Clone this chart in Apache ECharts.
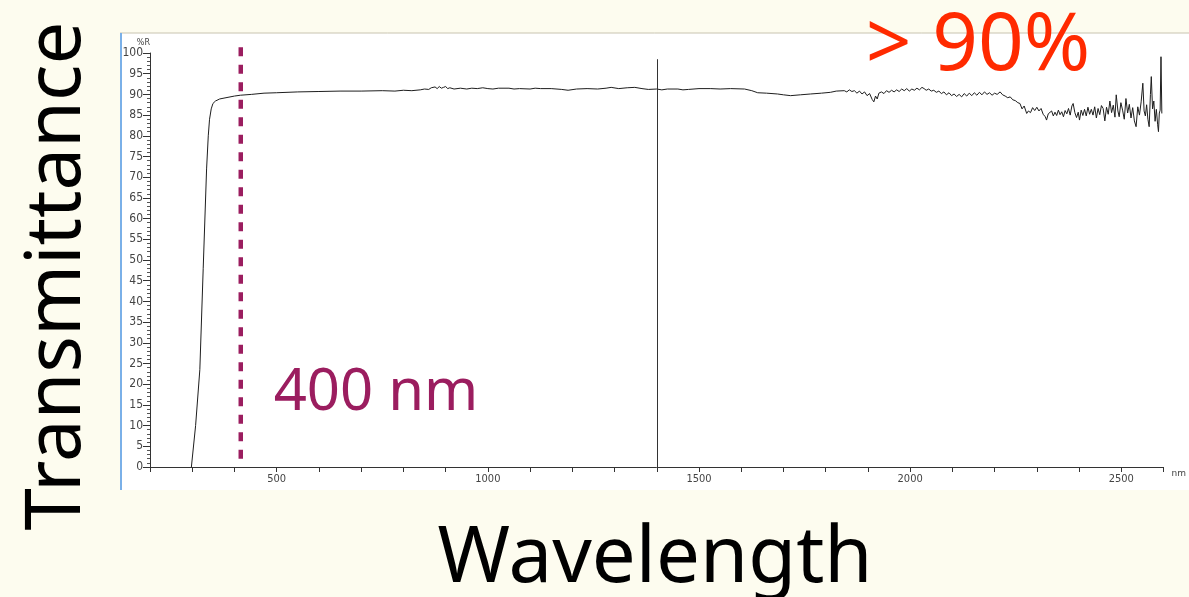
<!DOCTYPE html>
<html>
<head>
<meta charset="utf-8">
<script src="https://cdn.jsdelivr.net/npm/echarts@6/dist/echarts.min.js"></script>
<style>
  html, body { margin: 0; padding: 0; background: #fdfcef; }
  #chart { width: 1189px; height: 597px; }
</style>
</head>
<body>
<div id="chart"></div>
<script>
  // spectrum, [nm, %T] pairs, split by region
  var riseEdge = [
    [298, 0], [308, 10], [318, 23.5], [326, 48], [334, 72], [338, 80], [341, 84], [345, 86.5],
    [349, 87.8], [355, 88.4], [365, 88.9], [380, 89.2], [400, 89.6], [414, 89.8], [440, 90.0],
    [470, 90.3], [500, 90.4], [550, 90.6], [600, 90.7], [650, 90.8], [700, 90.8], [750, 90.9],
    [780, 90.8], [800, 91.0], [820, 90.9], [840, 91.1]
  ];
  var plateau = [
    [850, 91.3], [860, 91.2], [866, 91.6], [870, 91.3], [875, 91.8], [880, 91.4], [885, 91.9],
    [890, 91.5], [895, 91.7], [900, 91.9], [905, 91.4], [910, 91.6], [920, 91.3], [935, 91.5],
    [950, 91.3], [962, 91.5], [975, 91.4], [988, 91.6], [1000, 91.4], [1012, 91.3], [1025, 91.5],
    [1050, 91.5], [1062, 91.3], [1075, 91.4], [1100, 91.3], [1112, 91.5], [1125, 91.4], [1150, 91.4],
    [1175, 91.2], [1190, 91.0], [1210, 91.3], [1235, 91.4], [1260, 91.3], [1280, 91.5], [1292, 91.7],
    [1310, 91.4], [1330, 91.6], [1348, 91.7], [1365, 91.4], [1380, 91.2], [1400, 91.3], [1412, 91.1],
    [1425, 91.3], [1450, 91.3], [1462, 91.1], [1475, 91.2], [1500, 91.4], [1528, 91.4], [1550, 91.3],
    [1575, 91.4], [1608, 91.3]
  ];
  var waterDip = [
    [1625, 90.9], [1639, 90.4], [1660, 90.3], [1686, 90.1], [1700, 89.9], [1717, 89.7], [1740, 89.9],
    [1764, 90.1], [1790, 90.3], [1811, 90.5], [1825, 90.8], [1844, 90.9], [1850, 90.6], [1856, 91.1],
    [1862, 90.7], [1868, 90.9], [1874, 90.3], [1880, 90.8], [1886, 90.1], [1892, 90.6], [1898, 89.7],
    [1904, 90.2], [1910, 88.8], [1914, 88.2], [1918, 89.6], [1922, 88.9], [1926, 90.3], [1932, 90.6],
    [1938, 90.2], [1944, 90.9], [1950, 90.5], [1956, 91.0], [1962, 90.6], [1968, 91.1], [1974, 90.7],
    [1980, 91.3], [1986, 90.9], [1992, 91.4], [1998, 90.8], [2004, 91.3], [2010, 91.0], [2016, 91.5],
    [2022, 91.1], [2028, 91.7], [2033, 91.4], [2038, 91.0], [2044, 91.3], [2050, 90.8], [2056, 91.0],
    [2062, 90.5], [2068, 90.8], [2074, 90.2], [2080, 90.6], [2086, 89.9], [2092, 90.4], [2098, 89.7],
    [2104, 90.1], [2110, 89.5], [2116, 90.0], [2122, 89.4], [2128, 90.2], [2134, 89.6], [2140, 90.3],
    [2146, 89.7], [2152, 90.4], [2158, 89.8], [2164, 90.5], [2170, 89.9], [2176, 90.6], [2182, 90.0],
    [2188, 90.4], [2194, 89.8], [2200, 90.3], [2206, 90.0], [2213, 90.6], [2219, 89.9], [2225, 89.6],
    [2231, 89.2], [2237, 89.4], [2243, 88.7], [2249, 88.5], [2255, 88.0]
  ];
  var noisyTail = [
    [2260, 87.8], [2265, 86.5], [2270, 87.2], [2276, 85.4], [2280, 86.0], [2285, 85.6], [2290, 86.8],
    [2295, 86.1], [2300, 86.9], [2305, 86.0], [2310, 86.6], [2315, 85.2], [2320, 84.6], [2323, 83.8],
    [2327, 85.3], [2331, 84.9], [2335, 86.0], [2339, 84.8], [2343, 85.7], [2347, 84.9], [2351, 86.2],
    [2355, 85.1], [2359, 85.8], [2363, 84.6], [2367, 86.1], [2371, 85.3], [2375, 86.6], [2379, 85.0],
    [2383, 87.2], [2386, 87.8], [2390, 85.6], [2394, 84.4], [2398, 85.7], [2401, 83.8], [2405, 86.2],
    [2409, 84.9], [2413, 86.4], [2417, 84.8], [2421, 86.9], [2425, 85.2], [2429, 86.4], [2433, 85.0],
    [2437, 87.0], [2441, 84.3], [2445, 86.6], [2449, 85.1], [2453, 87.3], [2457, 86.6], [2461, 83.6],
    [2465, 86.9], [2469, 85.2], [2473, 88.4], [2477, 85.6], [2481, 87.4], [2485, 84.5], [2488, 89.9],
    [2492, 86.0], [2495, 84.6], [2499, 88.0], [2503, 86.2], [2507, 84.0], [2511, 89.0], [2515, 85.5],
    [2519, 87.6], [2523, 84.3], [2527, 86.8], [2531, 83.6], [2535, 82.2], [2539, 87.0], [2543, 85.0],
    [2547, 88.2], [2551, 92.7], [2554, 86.0], [2557, 84.8], [2560, 87.5], [2563, 84.0], [2566, 82.2],
    [2569, 90.0], [2571, 94.3], [2574, 86.5], [2577, 88.4], [2580, 83.5], [2583, 86.4], [2586, 82.8],
    [2588, 81.0], [2590, 85.5], [2592, 86.2], [2594, 99.1], [2596, 85.4]
  ];
  var markerNm = 414;            // dashed purple marker ("400 nm")
  var markerSpan = [1, 101.4];   // it runs a little above the 100 tick
  var cursorNm = 1400;           // thin vertical cursor line
  var xLabelTicks = [500, 1000, 1500, 2000, 2500];

  var points = riseEdge.concat(plateau, waterDip, noisyTail);

  var chart = echarts.init(document.getElementById('chart'));
  chart.setOption({
    backgroundColor: '#fdfcef',
    animation: false,
    grid: [
      { left: 150, right: 21, top: 53, bottom: 130 },
      // same scale as the plot, only taller, so the marker can pass 100
      { left: 150, right: 21, top: 46.6, bottom: 130 }
    ],
    graphic: [
      { type: 'rect', z: -10, shape: { x: 120, y: 33, width: 1069, height: 457 }, style: { fill: '#ffffff' } },
      { type: 'line', z: -9, shape: { x1: 120, y1: 33, x2: 1189, y2: 33 }, style: { stroke: '#c8c4b0', lineWidth: 1 } },
      { type: 'line', z: -9, shape: { x1: 121, y1: 33, x2: 121, y2: 490 }, style: { stroke: '#7ab0e8', lineWidth: 2 } },
      { type: 'text', x: 58, y: 276, rotation: Math.PI / 2,
        style: { text: 'Transmittance', fill: '#000', font: '76px "Noto Sans"', textAlign: 'center', textVerticalAlign: 'middle' } },
      { type: 'text', x: 655, y: 560,
        style: { text: 'Wavelength', fill: '#000', font: '78px "Noto Sans"', textAlign: 'center', textVerticalAlign: 'middle' } },
      { type: 'text', x: 978, y: 47,
        style: { text: '> 90%', fill: '#ff2a00', font: '80px "Noto Sans"', textAlign: 'center', textVerticalAlign: 'middle' } },
      { type: 'text', x: 376, y: 393,
        style: { text: '400 nm', fill: '#9b1d5f', font: '58px "Noto Sans"', textAlign: 'center', textVerticalAlign: 'middle' } }
    ],
    xAxis: [
      {
        type: 'value',
        gridIndex: 0,
        min: 200,
        max: 2600,
        interval: 100,
        name: 'nm',
        nameLocation: 'end',
        nameGap: 8,
        nameTextStyle: { fontSize: 9, color: '#444', fontFamily: 'DejaVu Sans', verticalAlign: 'top', padding: [2, 0, 0, 0] },
        axisLine: { lineStyle: { color: '#333', width: 1 } },
        axisTick: { inside: false, length: 5, lineStyle: { color: '#333' } },
        axisLabel: {
          fontSize: 11, color: '#444', fontFamily: '"Liberation Sans Narrow", "DejaVu Sans Condensed", sans-serif', margin: 7,
          formatter: function (v) { return xLabelTicks.indexOf(v) >= 0 ? String(v) : ''; }
        },
        splitLine: { show: false }
      },
      { type: 'value', gridIndex: 1, min: 200, max: 2600, show: false }
    ],
    yAxis: [
      {
        type: 'value',
        gridIndex: 0,
        min: 0,
        max: 100,
        interval: 5,
        name: '%R',
        nameLocation: 'end',
        nameGap: 5,
        nameTextStyle: { fontSize: 8, color: '#444', fontFamily: 'DejaVu Sans', align: 'right', padding: [0, 0, 0, 0] },
        axisLine: { show: true, lineStyle: { color: '#333', width: 1 } },
        axisTick: { show: true, length: 7, lineStyle: { color: '#333' } },
        minorTick: { show: true, splitNumber: 5, length: 3, lineStyle: { color: '#555' } },
        axisLabel: { fontSize: 12, color: '#444', fontFamily: '"Liberation Sans Narrow", "DejaVu Sans Condensed", sans-serif', margin: 7 },
        splitLine: { show: false }
      },
      { type: 'value', gridIndex: 1, min: 0, max: 101.55, show: false }
    ],
    series: [
      {
        type: 'line',
        data: points,
        showSymbol: false,
        symbol: 'none',
        clip: false,
        lineStyle: { color: '#1e1e1e', width: 1 },
        z: 3,
        markLine: {
          symbol: 'none',
          silent: true,
          label: { show: false },
          data: [
            [{ coord: [cursorNm, 0], lineStyle: { color: '#333', width: 1, type: 'solid' } }, { coord: [cursorNm, 98.5] }]
          ]
        }
      },
      {
        type: 'line',
        xAxisIndex: 1,
        yAxisIndex: 1,
        data: [[markerNm, markerSpan[1]], [markerNm, markerSpan[0]]],
        showSymbol: false,
        symbol: 'none',
        silent: true,
        lineStyle: { color: '#9b1d5f', width: 4.5, type: [9, 8.5], cap: 'butt' },
        z: 2
      }
    ]
  });
</script>
</body>
</html>
